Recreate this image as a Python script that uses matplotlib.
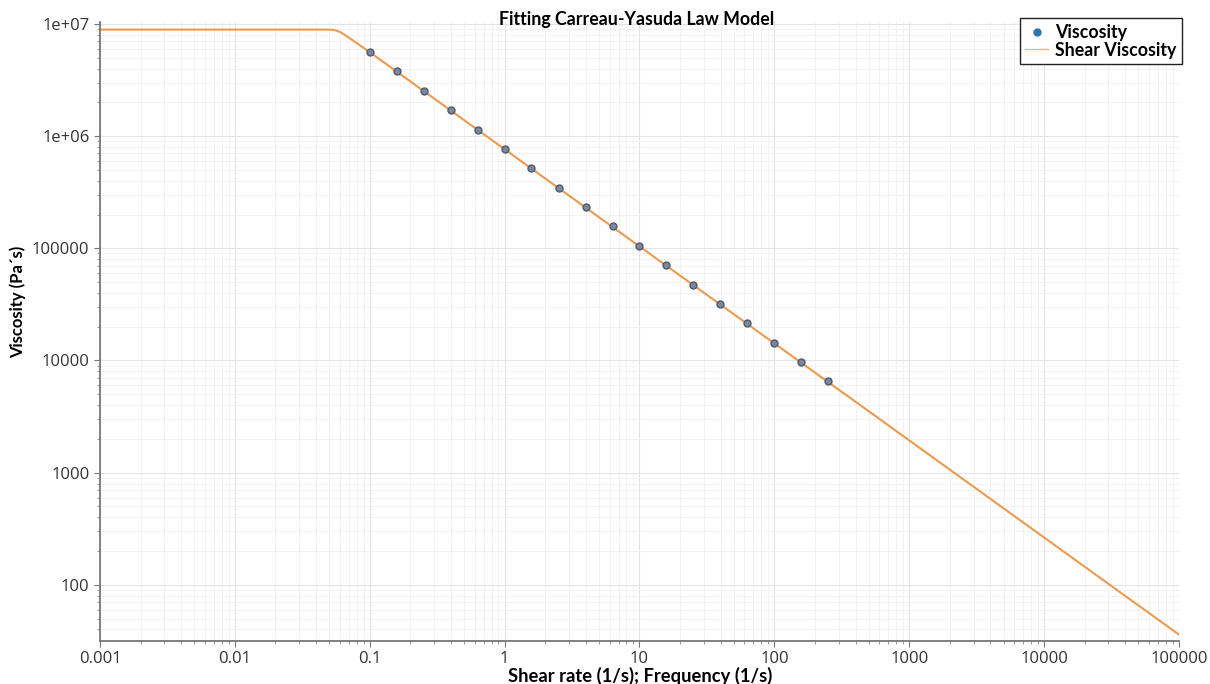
import matplotlib
matplotlib.use('Agg')
import matplotlib.pyplot as plt
import numpy as np
from matplotlib.lines import Line2D
from matplotlib.ticker import LogLocator, NullFormatter

# measured points (shear rate 1/s, viscosity Pa*s)
shear_rate = [0.1, 0.158, 0.251, 0.398, 0.631, 1.0, 1.58, 2.51, 3.98, 6.31,
              10.0, 15.8, 25.1, 39.8, 63.1, 100.0, 158.0, 251.0]
viscosity = [5.6e6, 3.8e6, 2.55e6, 1.70e6, 1.14e6, 7.7e5, 5.15e5, 3.45e5, 2.33e5, 1.57e5,
             1.05e5, 7.1e4, 4.75e4, 3.2e4, 2.15e4, 1.44e4, 9.7e3, 6.5e3]

# fitted Carreau-Yasuda curve
fit_rate = [0.001, 0.01, 0.04, 0.05, 0.055, 0.06, 0.065, 0.07, 0.1,
            1.0, 10.0, 100.0, 1000.0, 10000.0, 100000.0]
fit_visc = [8.9e6, 8.9e6, 8.9e6, 8.9e6, 8.8e6, 8.5e6, 8.02e6, 7.55e6, 5.6e6,
            7.64e5, 1.04e5, 1.42e4, 1.94e3, 264, 36]

x_ticks = [0.001, 0.01, 0.1, 1, 10, 100, 1000, 10000, 100000]
x_labels = ['0.001', '0.01', '0.1', '1', '10', '100', '1000', '10000', '100000']
y_ticks = [100, 1000, 10000, 100000, 1e6, 1e7]
y_labels = ['100', '1000', '10000', '100000', '1e+06', '1e+07']

fig = plt.figure(figsize=(12.1, 6.84), dpi=100)
ax = fig.add_axes([0.0826, 0.0629, 0.8918, 0.9049])

ax.set_xscale('log')
ax.set_yscale('log')

# grid
ax.xaxis.set_minor_locator(LogLocator(base=10, subs=np.arange(2, 10), numticks=100))
ax.yaxis.set_minor_locator(LogLocator(base=10, subs=np.arange(2, 10), numticks=100))
ax.xaxis.set_minor_formatter(NullFormatter())
ax.yaxis.set_minor_formatter(NullFormatter())
ax.grid(True, which='major', color='#e4e4e4', linewidth=0.8)
ax.grid(True, which='minor', color='#f0f0f0', linewidth=0.6)
ax.set_axisbelow(True)

ax.plot(fit_rate, fit_visc, color='#EE9A4D', linewidth=1.5, zorder=2)
ax.plot(shear_rate, viscosity, linestyle='none', marker='o', markersize=5,
        markerfacecolor='#7b879b', markeredgecolor='#4d5b70', markeredgewidth=1.0, zorder=3)

ax.set_xlim(0.001, 100000)
ax.set_ylim(31.6, 1.04e7)

ax.set_xticks(x_ticks)
ax.set_xticklabels(x_labels)
ax.set_yticks(y_ticks)
ax.set_yticklabels(y_labels)

for side in ['top', 'right']:
    ax.spines[side].set_visible(False)
for side in ['left', 'bottom']:
    ax.spines[side].set_color('#777777')
    ax.spines[side].set_linewidth(1.3)

ax.tick_params(axis='both', which='major', length=4, color='#777777',
               labelsize=12, labelcolor='#333333')
ax.tick_params(axis='both', which='minor', length=2.5, color='#888888')
for lbl in ax.get_xticklabels() + ax.get_yticklabels():
    lbl.set_family('Open Sans')

fig.text(0.526, 0.972, 'Fitting Carreau-Yasuda Law Model', fontsize=12.8,
         fontweight='bold', family='Lato', ha='center', va='center')
fig.text(0.529, 0.012, 'Shear rate (1/s); Frequency (1/s)', fontsize=13.2,
         fontweight='bold', family='Lato', ha='center', va='center')
ax.set_ylabel('Viscosity (Pa´s)', fontsize=12, fontweight='bold', family='Lato', labelpad=2)
ax.yaxis.set_label_coords(-0.068, 0.548)

handles = [Line2D([], [], linestyle='none', marker='o', markersize=5, color='#2878b5'),
           Line2D([], [], color='#EDB67A', linewidth=1.0)]
leg = ax.legend(handles, ['Viscosity', 'Shear Viscosity'], loc='upper right',
                bbox_to_anchor=(0.977, 0.973), bbox_transform=fig.transFigure,
                frameon=True, fancybox=False, framealpha=1, edgecolor='#222222',
                borderpad=0.3, handlelength=1.3, handletextpad=0.4, labelspacing=0.05,
                borderaxespad=0, prop={'family': 'Lato', 'weight': 'bold', 'size': 12.8})
leg.get_frame().set_linewidth(1.0)

plt.savefig('out.png', dpi=100)
plt.close()
